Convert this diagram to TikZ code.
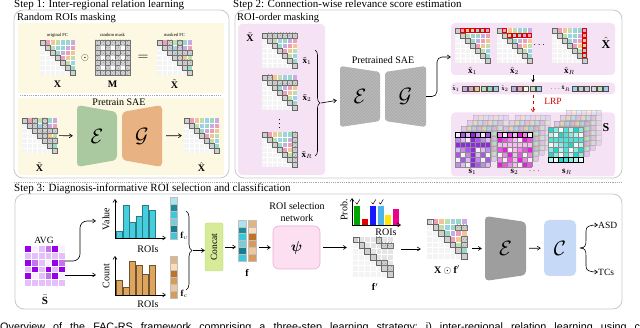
\documentclass[tikz,border=0pt]{standalone}
\usepackage{amsmath,amssymb}
\usepackage{fontspec}
\setmainfont{Liberation Serif}
\newfontfamily\capfont{Liberation Sans}
\usetikzlibrary{patterns,decorations.pathreplacing,arrows.meta,calc}
\definecolor{pal0}{RGB}{200,170,228}
\definecolor{pal1}{RGB}{236,160,182}
\definecolor{pal2}{RGB}{242,196,150}
\definecolor{pal3}{RGB}{190,222,172}
\definecolor{pal4}{RGB}{160,208,232}
\definecolor{pal5}{RGB}{150,218,198}
\definecolor{yelP}{RGB}{253,248,225}
\definecolor{pinkP}{RGB}{246,226,245}
\definecolor{boxL}{RGB}{200,200,200}
\definecolor{encG}{RGB}{170,201,160}
\definecolor{decO}{RGB}{232,178,130}
\definecolor{grayE}{RGB}{158,158,158}
\definecolor{sPur}{RGB}{140,30,225}
\definecolor{sBar}{RGB}{150,0,235}
\definecolor{sMag}{RGB}{230,20,220}
\definecolor{sCya}{RGB}{20,215,200}
\definecolor{cyBar}{RGB}{70,205,222}
\definecolor{orBar}{RGB}{222,165,95}
\definecolor{conF}{RGB}{214,234,152}
\definecolor{conB}{RGB}{190,214,120}
\definecolor{psiF}{RGB}{252,224,242}
\definecolor{psiB}{RGB}{240,170,220}
\definecolor{clfF}{RGB}{198,218,247}
\definecolor{cv1}{RGB}{170,228,238}
\definecolor{cv2}{RGB}{30,140,150}
\definecolor{cv3}{RGB}{60,200,220}
\definecolor{cv4}{RGB}{120,205,215}
\definecolor{cv5}{RGB}{25,125,140}
\definecolor{co1}{RGB}{225,180,130}
\definecolor{co2}{RGB}{248,222,188}
\definecolor{co3}{RGB}{190,115,40}
\definecolor{co4}{RGB}{215,155,90}
\definecolor{co5}{RGB}{235,200,160}

% FC matrix: #1,#2 top-left, #3 cell size, #4 mode (0 colour, 1 gray)
\newcommand{\FCmat}[4]{%
\begin{scope}[shift={(#1,#2)}]
\foreach \i in {0,...,6}{\foreach \j in {0,...,6}{%
 \ifnum\j>\i\relax
  \ifnum#4=0\relax
   \pgfmathtruncatemacro\k{mod(\i+\j,6)}%
   \fill[pal\k] (\j*#3,\i*#3) rectangle ++(#3,#3);
  \else
   \fill[gray!20] (\j*#3,\i*#3) rectangle ++(#3,#3);
  \fi
 \else
  \ifnum\j=\i\relax
   \fill[gray!38] (\j*#3,\i*#3) rectangle ++(#3,#3);
  \else
   \fill[gray!9] (\j*#3,\i*#3) rectangle ++(#3,#3);
  \fi
 \fi
}}
\foreach \t in {1,...,6}{\draw[white,line width=.5pt] (\t*#3,0) -- (\t*#3,7*#3);
 \draw[white,line width=.5pt] (0,\t*#3) -- (7*#3,\t*#3);}
\foreach \t in {0,...,6}{\draw[black!60,line width=.4pt] (\t*#3,\t*#3) rectangle ++(#3,#3);}
\end{scope}}

\newcommand{\HatchCells}[4]{%
\begin{scope}[shift={(#1,#2)}]
\foreach \i/\j in {#4}{%
 \path[fill=gray!35, postaction={pattern=crosshatch dots, pattern color=black!40}] (\j*#3,\i*#3) rectangle ++(#3,#3);
 \draw[black!55,line width=.35pt] (\j*#3,\i*#3) rectangle ++(#3,#3);}
\end{scope}}

\newcommand{\RedCells}[4]{%
\begin{scope}[shift={(#1,#2)}]
\foreach \i/\j in {#4}{\draw[red!90!black,line width=.65pt] (\j*#3+.35,\i*#3+.35) rectangle ++(#3-.7,#3-.7);}
\end{scope}}

\newcommand{\Mmat}[2]{%
\begin{scope}[shift={(#1,#2)}]
\foreach \i in {0,...,6}{\foreach \j in {0,...,6}{%
 \pgfmathtruncatemacro\w{and(isodd(\i),isodd(\j))}%
 \ifnum\w=1\relax
  \fill[white] (\j*5,\i*5) rectangle ++(5,5);
  \draw[gray!50,line width=.3pt] (\j*5,\i*5) rectangle ++(5,5);
 \else
  \path[fill=gray!35, postaction={pattern=crosshatch dots, pattern color=black!40}] (\j*5,\i*5) rectangle ++(5,5);
  \draw[black!55,line width=.3pt] (\j*5,\i*5) rectangle ++(5,5);
 \fi}}
\end{scope}}

% S stack: #1,#2 top-left of front, #3 colour, #4 seed, #5 highlighted row
\newcommand{\Sstack}[5]{%
\begin{scope}[shift={(#1,#2)}]
\foreach \dx/\dy/\op in {18/-17/0.3,12/-12/0.4,6/-6/0.5}{%
 \begin{scope}[shift={(\dx,\dy)}, opacity=\op]
 \foreach \i in {0,...,6}{\foreach \j in {0,...,6}{%
  \pgfmathtruncatemacro\k{mod(\i*3+\j*2+\dx,6)}%
  \fill[pal\k] (\j*5,\i*5) rectangle ++(5,5);}}
 \foreach \t in {0,...,7}{\draw[black!40,line width=.3pt] (\t*5,0) -- (\t*5,35); \draw[black!40,line width=.3pt] (0,\t*5) -- (35,\t*5);}
 \end{scope}}
\foreach \i in {0,...,6}{\foreach \j in {0,...,6}{%
 \pgfmathtruncatemacro\pc{8+22*mod(\i*7+\j*3+\i*\j+#4,5)}%
 \fill[#3!\pc!white] (\j*5,\i*5) rectangle ++(5,5);}}
\foreach \t in {0,...,7}{\draw[black!45,line width=.3pt] (\t*5,0) -- (\t*5,35); \draw[black!45,line width=.3pt] (0,\t*5) -- (35,\t*5);}
\foreach \j in {0,...,6}{\draw[black,line width=.75pt] (\j*5,#5*5) rectangle ++(5,5);}
\end{scope}}

\begin{document}
\begin{tikzpicture}[x=1pt,y=-1pt,
  >={Straight Barb[length=3pt,width=4pt]},
  boxline/.style={draw=boxL, line width=.8pt, rounded corners=9pt},
  ttl/.style={anchor=base west, inner sep=0, font=\fontsize{11}{12}\selectfont},
  subt/.style={anchor=base west, inner sep=0, font=\fontsize{10.5}{12}\selectfont},
  tinyl/.style={inner sep=0, font=\fontsize{4.6}{5}\selectfont},
  lbl/.style={inner sep=0, font=\fontsize{10}{11}\selectfont},
  smb/.style={inner sep=0, font=\fontsize{9}{10}\selectfont},
  blk/.style={inner sep=0},
  cal/.style={inner sep=0, font=\fontsize{22}{24}\selectfont},
  arr/.style={->, line width=.6pt},
  panel/.style={fill=pinkP, rounded corners=4pt, inner sep=0}]
\useasboundingbox (0,0) rectangle (640,328);

% ================= Step 1 =================
\draw[boxline] (14,10) rectangle (229,178);
\node[ttl] (t1) at (14,8) {Step 1: Inter-regional relation learning};
\node[subt] (s1) at (17,20.5) {Random ROIs masking};
\fill[yelP] (18,23) rectangle (224,93);
\fill[yelP] (18,98) rectangle (224,175);
\draw[gray!70, dash pattern=on 1.2pt off 1pt, line width=.5pt] (20,95.5) -- (222,95.5);

\FCmat{40}{40}{5}{0}
\node[blk, minimum size=35] (X) at (57.5,57.5) {};
\node[tinyl] at (57.5,35) {original FC};
\node[lbl] (Xl) at (57.5,84) {$\mathbf{X}$};
\node[lbl] (od) at (85,58) {$\odot$};
\Mmat{95}{40}
\node[blk, minimum size=35] (M) at (112.5,57.5) {};
\node[tinyl] at (112.5,35) {random mask};
\node[lbl] (Ml) at (112.5,84) {$\mathbf{M}$};
\node[inner sep=0, font=\fontsize{14}{14}\selectfont] (eq) at (143,58) {$=$};
\FCmat{157}{40}{5}{0}
\HatchCells{157}{40}{5}{0/2,0/4,1/2,1/4,2/3,2/4,2/5,2/6,3/4,4/5,4/6}
\node[blk, minimum size=35] (Xt) at (174.5,57.5) {};
\node[tinyl] at (174.5,35) {masked FC};
\node[lbl] (Xtl) at (174.5,84) {$\tilde{\mathbf{X}}$};

\node[inner sep=0, font=\fontsize{10}{11}\selectfont] (pt) at (119,102) {Pretrain SAE};
\FCmat{22}{118}{5}{0}
\HatchCells{22}{118}{5}{0/2,0/4,1/2,1/4,2/3,2/4,2/5,2/6,3/4,4/5,4/6}
\node[blk, minimum size=35] (Xt2) at (39.5,135.5) {};
\node[lbl] at (39.5,167) {$\tilde{\mathbf{X}}$};
\fill[encG, rounded corners=4pt] (77,105) -- (117,112) -- (117,160) -- (77,167) -- cycle;
\node[cal, minimum width=40, minimum height=55] (enc1) at (97,136) {$\mathcal{E}$};
\fill[decO, rounded corners=4pt] (122,112) -- (162,105) -- (162,167) -- (122,160) -- cycle;
\node[cal, minimum width=40, minimum height=55] (dec1) at (142,136) {$\mathcal{G}$};
\FCmat{184}{118}{5}{0}
\node[blk, minimum size=35] (Xh1) at (201.5,135.5) {};
\node[lbl] at (201.5,167) {$\hat{\mathbf{X}}$};
\draw[arr, shorten <=2pt, shorten >=4pt] (Xt2) -- (enc1);
\draw[arr, shorten <=4pt, shorten >=2pt] (dec1) -- (Xh1);

% ================= Step 2 =================
\draw[boxline] (235,10) rectangle (622,178);
\node[ttl] (t2) at (233,8) {Step 2: Connection-wise relevance score estimation};
\node[subt] (s2) at (237,20.5) {ROI-order masking};
\node[panel, minimum width=87, minimum height=151] (lp) at (281.5,99.5) {};
\node[lbl] at (250,37) {$\tilde{\mathbf{X}}$};
\FCmat{262}{33}{5}{0}
\HatchCells{262}{33}{5}{0/1,0/2,0/3,0/4,0/5,0/6}
\node[blk, minimum size=35] (xt1) at (279.5,50.5) {};
\node[smb] at (307,61) {$\tilde{\mathbf{x}}_1$};
\FCmat{262}{75}{5}{0}
\HatchCells{262}{75}{5}{0/1,1/2,1/3,1/4,1/5,1/6}
\node[blk, minimum size=35] (xt2) at (279.5,92.5) {};
\node[smb] at (307,98) {$\tilde{\mathbf{x}}_2$};
\node[lbl] at (279.5,121) {$\vdots$};
\FCmat{262}{132}{5}{0}
\HatchCells{262}{132}{5}{0/6,1/6,2/6,3/6,4/6,5/6}
\node[blk, minimum size=35] (xtR) at (279.5,149.5) {};
\node[smb] at (307,155) {$\tilde{\mathbf{x}}_R$};
\draw[line width=.6pt, decorate, decoration={brace, amplitude=5pt}] (315,50) -- (315,156);
\coordinate (brt) at (321,103);

\node[inner sep=0, font=\fontsize{10}{11}\selectfont] (psae) at (383,60) {Pretrained SAE};
\path[fill=gray!55, rounded corners=3pt, postaction={pattern=north east lines, pattern color=black!35}] (340,66) -- (380,72) -- (380,121) -- (340,127) -- cycle;
\node[cal, minimum width=40, minimum height=55] (enc2) at (360,96.5) {$\mathcal{E}$};
\path[fill=gray!55, rounded corners=3pt, postaction={pattern=north east lines, pattern color=black!35}] (385,72) -- (426,66) -- (426,127) -- (385,121) -- cycle;
\node[cal, minimum width=41, minimum height=55] (dec2) at (405.5,96.5) {$\mathcal{G}$};
\draw[arr, shorten >=3pt] (brt) -- (enc2);

\node[panel, minimum width=164, minimum height=52] (xhp) at (533,49) {};
\node[panel, minimum width=164, minimum height=12] (strip) at (533,88.5) {};
\node[panel, minimum width=164, minimum height=64] (Sp) at (533,144.5) {};
\draw[arr, rounded corners=5pt] (dec2.east) -- (437,96.5) -- (437,57) -- (xhp.west |- 0,57);

\FCmat{455}{28}{5}{0}
\RedCells{455}{28}{5}{0/1,0/2,0/3,0/4,0/5,0/6}
\node[smb] at (472.5,71) {$\hat{\mathbf{x}}_1$};
\FCmat{497}{28}{5}{0}
\RedCells{497}{28}{5}{0/1,1/2,1/3,1/4,1/5,1/6}
\node[smb] at (514.5,71) {$\hat{\mathbf{x}}_2$};
\node[lbl] at (540,45) {$\cdots$};
\FCmat{552}{28}{5}{0}
\RedCells{552}{28}{5}{0/6,1/6,2/6,3/6,4/6,5/6}
\node[smb] at (569.5,71) {$\hat{\mathbf{x}}_R$};
\node[inner sep=0, font=\fontsize{12}{13}\selectfont] at (606,43) {$\hat{\mathbf{X}}$};

\node[inner sep=0, font=\fontsize{6}{7}\selectfont] at (456,88.5) {$\hat{\mathbf{x}}_1$};
\foreach \c [count=\n from 0] in {pal0,pal1,pal2,pal3,pal5,pal4}{\draw[black!70, fill=\c, line width=.4pt] (462+\n*6.3,86) rectangle ++(5,5);}
\node[inner sep=0, font=\fontsize{6}{7}\selectfont] at (505,88.5) {$\hat{\mathbf{x}}_2$};
\foreach \c [count=\n from 0] in {pal0,pal1,yelP,pal3,pal4}{\draw[black!70, fill=\c, line width=.4pt] (511+\n*6.3,86) rectangle ++(5,5);}
\node[inner sep=0, font=\fontsize{7}{8}\selectfont] at (556,88.5) {$\cdots$};
\node[inner sep=0, font=\fontsize{6}{7}\selectfont] at (566,88.5) {$\hat{\mathbf{x}}_R$};
\foreach \c [count=\n from 0] in {pal4,gray!40,gray!40,gray!30,pal3,pal4}{\draw[black!70, fill=\c, line width=.4pt] (572+\n*6.3,86) rectangle ++(5,5);}

\draw[-{Stealth[length=3pt,width=3.5pt]}, line width=.7pt] (xhp.south -| 533,0) -- (strip.north -| 533,0);
\draw[->, red!85!black, dashed, line width=.6pt] (strip.south -| 533,0) -- (Sp.north -| 533,0);
\node[inner sep=0, text=red!85!black, font=\fontsize{9.5}{10}\selectfont] at (553,101.5) {LRP};

\Sstack{455}{132}{sPur}{0}{0}
\Sstack{497}{132}{sMag}{2}{0}
\Sstack{548}{127}{sCya}{4}{6}
\node[inner sep=0, font=\fontsize{12}{13}\selectfont] at (606,128) {$\mathbf{S}$};
\node[smb] at (472.5,172) {$\mathbf{s}_1$};
\node[smb] at (514.5,172) {$\mathbf{s}_2$};
\node[smb] at (535,171) {$\cdots$};
\node[smb] at (567,172) {$\mathbf{s}_R$};

% ================= Step 3 =================
\draw[gray!70, dash pattern=on 1.2pt off 1pt, line width=.5pt] (14,182) -- (622,182);
\draw[boxline] (15,194) rectangle (622,309);
\node[ttl] (t3) at (14,191.5) {Step 3: Diagnosis-informative ROI selection and classification};

\node[inner sep=0, font=\fontsize{9.5}{10}\selectfont] at (44,240) {AVG};
\foreach \i in {0,...,5}{\foreach \j in {0,...,5}{%
 \pgfmathtruncatemacro\m{mod(\i*2+\j*3+\i*\j,4)}%
 \ifcase\m \def\pc{100}\or \def\pc{55}\or \def\pc{25}\or \def\pc{6}\fi
 \fill[sBar!\pc!white] (25+\j*6.67,246+\i*6.67) rectangle ++(6.67,6.67);}}
\foreach \t in {1,...,5}{\draw[white,line width=.5pt] (25+\t*6.67,246) -- ++(0,40); \draw[white,line width=.5pt] (25,246+\t*6.67) -- ++(40,0);}
\node[blk, minimum size=40] (Sbar) at (45,266) {};
\node[inner sep=0, font=\fontsize{11}{12}\selectfont] at (45,300) {$\bar{\mathbf{S}}$};

\coordinate (vhead) at (96,221);
\coordinate (chead) at (96,275);
\draw[arr, rounded corners=7pt] (Sbar.east |- 0,261) -- (80,261) -- (80,221) -- (vhead);
\draw[arr] (Sbar.east |- 0,275) -- (chead);

% Value chart
\foreach \x/\h in {116.5/231,123/205,129.5/222,136/216,142.5/205,149/210}{\draw[fill=cyBar, draw=cyBar!60!black, line width=.3pt] (\x,238) rectangle (\x+6,\h);}
\draw[arr] (115,238) -- (115,199);
\draw[arr] (115,238) -- (166,238);
\node[lbl, rotate=90] at (106,219) {Value};
\node[lbl] at (148,249) {ROIs};
\foreach \c [count=\n from 0] in {cv1,cv2,cv3,cv4,cv5,cv3}{\fill[\c] (170,197+\n*7) rectangle ++(7.5,7);}
\foreach \n in {0,...,6}{\draw[black!25,line width=.3pt] (170,197+\n*7) -- ++(7.5,0);}
\draw[black!25,line width=.3pt] (170,197) rectangle (177.5,239);
\node[smb] at (184,236) {$\mathbf{f}_v$};

% Count chart
\foreach \x/\h in {116.5/280,123/287,129.5/261,136/265,142.5/274,149/265}{\draw[fill=orBar, draw=orBar!50!black, line width=.3pt] (\x,295) rectangle (\x+6,\h);}
\draw[arr] (115,295) -- (115,256);
\draw[arr] (115,295) -- (166,295);
\node[lbl, rotate=90] at (106,276) {Count};
\node[lbl] at (148,304) {ROIs};
\foreach \c [count=\n from 0] in {co1,co2,co3,co4,co5,co4}{\fill[\c] (170,256+\n*7) rectangle ++(7.5,7);}
\foreach \n in {0,...,6}{\draw[black!25,line width=.3pt] (170,256+\n*7) -- ++(7.5,0);}
\draw[black!25,line width=.3pt] (170,256) rectangle (177.5,298);
\node[smb] at (184,294) {$\mathbf{f}_c$};

\draw[line width=.6pt, decorate, decoration={brace, amplitude=6pt}] (186,211) -- (186,290);
\coordinate (brc) at (193,250.5);
\node[draw=conB, fill=conF, rounded corners=2pt, minimum width=18, minimum height=48, inner sep=0, font=\fontsize{9.5}{10}\selectfont] (concat) at (214,247) {\rotatebox{90}{Concat}};
\draw[arr] (brc) -- (concat.west |- brc);

% f vector
\foreach \c [count=\n from 0] in {cv1,cv2,cv3,cv4,cv5,cv3}{\fill[\c] (238.5,220+\n*6.8) rectangle ++(8,6.8);}
\foreach \c [count=\n from 0] in {co1,co2,co3,co4,co5,co4}{\fill[\c] (248,220+\n*6.8) rectangle ++(8,6.8);}
\foreach \n in {0,...,6}{\draw[black!25,line width=.3pt] (238.5,220+\n*6.8) -- ++(8,0); \draw[black!25,line width=.3pt] (248,220+\n*6.8) -- ++(8,0);}
\draw[black!25,line width=.3pt] (238.5,220) rectangle (246.5,260.8);
\draw[black!25,line width=.3pt] (248,220) rectangle (256,260.8);
\node[blk, minimum width=18, minimum height=41] (fvec) at (247.25,240.4) {};
\node[lbl] at (247,273) {$\mathbf{f}$};
\draw[arr, shorten <=2pt, shorten >=2pt] (concat) -- (fvec.west |- concat);

\node[align=center, inner sep=0, font=\fontsize{10}{12}\selectfont] at (297,212) {ROI selection\\network};
\node[fill=psiF, draw=psiB, line width=.6pt, rounded corners=6pt, minimum width=47, minimum height=43, inner sep=0, font=\fontsize{14}{15}\selectfont] (psi) at (296.5,247.5) {$\boldsymbol{\psi}$};
\draw[arr, shorten <=3pt, shorten >=2pt] (fvec.east |- psi) -- (psi);

% Prob chart
\foreach \x/\h/\c in {354/206/green!65!black,362/219/red!90!black,370/206/blue!90,377.5/206/cyan!85!blue!70,385/215/yellow!90!orange,392.5/209/magenta}{\fill[\c] (\x,225) rectangle (\x+6,\h);}
\foreach \x in {357,373,380.5}{\draw[line width=.5pt] (\x-1.5,202.5) -- (\x,204) -- (\x+2.8,199.5);}
\draw[arr] (352,225) -- (352,198);
\draw[arr] (352,225) -- (401,225);
\node[lbl, rotate=90] at (344,210) {Prob.};
\node[lbl] at (386,232) {ROIs};

\FCmat{353}{237}{5.7}{1}
\HatchCells{353}{237}{5.7}{0/4,1/5,1/6,4/5,5/6}
\node[blk, minimum size=40] (fp) at (373,257) {};
\node[lbl] at (375,287) {$\mathbf{f}'$};
\draw[arr, shorten <=3pt, shorten >=6pt] (psi) -- (fp.west |- psi);

\FCmat{427}{219}{5.7}{0}
\HatchCells{427}{219}{5.7}{1/5,1/6,3/6,4/6}
\node[blk, minimum size=40] (xf) at (447,239) {};
\node[lbl] at (447,270) {$\mathbf{X}\odot\mathbf{f}'$};
\coordinate (fpout) at (401,249);
\draw[arr, shorten >=6pt] (fpout) -- (xf.west |- fpout);

\fill[grayE, rounded corners=4pt] (485,216) -- (526,222) -- (526,275) -- (485,281) -- cycle;
\node[cal, minimum width=41, minimum height=60] (enc3) at (505.5,248.5) {$\mathcal{E}$};
\draw[arr, shorten <=5pt, shorten >=3pt] (xf.east |- enc3) -- (enc3);
\node[fill=clfF, rounded corners=5pt, minimum width=32, minimum height=56, inner sep=0, font=\fontsize{20}{22}\selectfont] (clf) at (560,248) {$\mathcal{C}$};
\draw[arr, shorten <=3pt, shorten >=3pt] (enc3) -- (clf);

\node[anchor=west, inner sep=0, font=\fontsize{9.5}{10}\selectfont] (asd) at (598,225) {ASD};
\node[anchor=west, inner sep=0, font=\fontsize{9.5}{10}\selectfont] (tcs) at (598,272) {TCs};
\coordinate (ctip) at (580,248);
\draw[arr] (ctip) .. controls (585.5,248) and (586,245) .. (586,240) -- (586,231) .. controls (586,226.5) and (589,225) .. (asd.west);
\draw[arr] (ctip) .. controls (585.5,248) and (586,251) .. (586,256) -- (586,266) .. controls (586,270.5) and (589,272) .. (tcs.west);

% caption (cut by the page edge)
\node[anchor=base west, inner sep=0, font=\capfont\fontsize{10.8}{12}\selectfont] (cap) at (0,331) {\frenchspacing\makebox[652pt][s]{Overview of the FAC-RS framework comprising a three-step learning strategy:\ i) inter-regional relation learning using con}};
\end{tikzpicture}
\end{document}
